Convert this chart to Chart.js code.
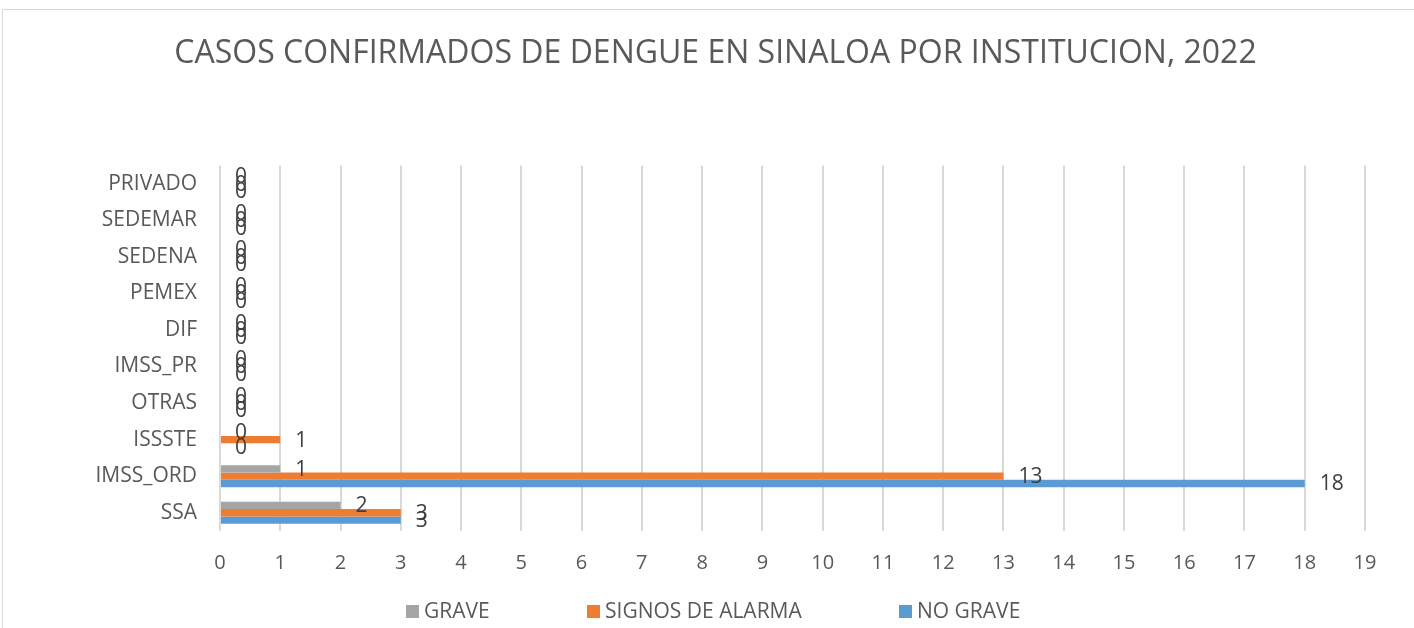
<!DOCTYPE html>
<html>
<head>
<meta charset="utf-8">
<script src="https://cdn.jsdelivr.net/npm/chart.js@4/dist/chart.umd.min.js"></script>
<style>
  html, body { margin: 0; padding: 0; background: #fff; }
  #wrap { position: relative; width: 1414px; height: 628px; overflow: hidden; }
  #frame { position: absolute; left: 2px; top: 9px; width: 1440px; height: 660px; border: 1px solid #d9d9d9; }
  canvas { position: absolute; left: 0; top: 0; }
</style>
</head>
<body>
<div id="wrap">
  <div id="frame"></div>
  <canvas id="chart" width="1414" height="628"></canvas>
</div>
<script>
// categories listed top to bottom as they appear in the chart
const institutions = ["PRIVADO", "SEDEMAR", "SEDENA", "PEMEX", "DIF", "IMSS_PR", "OTRAS", "ISSSTE", "IMSS_ORD", "SSA"];
const grave = [0, 0, 0, 0, 0, 0, 0, 0, 1, 2];
const signosDeAlarma = [0, 0, 0, 0, 0, 0, 0, 1, 13, 3];
const noGrave = [0, 0, 0, 0, 0, 0, 0, 0, 18, 3];
const xTicks = [0, 1, 2, 3, 4, 5, 6, 7, 8, 9, 10, 11, 12, 13, 14, 15, 16, 17, 18, 19];

const FONT = "'Open Sans', 'Noto Sans', sans-serif";
const TEXT = "#595959";

// value labels right of each bar end
const barLabels = {
    id: "barLabels",
    afterDatasetsDraw(chart) {
        const ctx = chart.ctx;
        ctx.save();
        ctx.font = "21px " + FONT;
        ctx.fillStyle = "#404040";
        ctx.textAlign = "left";
        ctx.textBaseline = "middle";
        chart.data.datasets.forEach((ds, i) => {
            const meta = chart.getDatasetMeta(i);
            meta.data.forEach((bar, j) => {
                ctx.fillText(String(ds.data[j]), bar.x + 15, bar.y + 1);
            });
        });
        ctx.restore();
    }
};

// legend drawn under the axis, squares with wide gaps
const bottomLegend = {
    id: "bottomLegend",
    afterDraw(chart) {
        const ctx = chart.ctx;
        const y = 611;
        const starts = [406, 587, 899];
        ctx.save();
        ctx.font = "21px " + FONT;
        ctx.textAlign = "left";
        ctx.textBaseline = "middle";
        chart.data.datasets.forEach((ds, i) => {
            ctx.fillStyle = ds.backgroundColor;
            ctx.fillRect(starts[i], y - 6, 13, 13);
            ctx.fillStyle = TEXT;
            ctx.fillText(ds.label, starts[i] + 18, y + 1);
        });
        ctx.restore();
    }
};

new Chart(document.getElementById("chart"), {
    type: "bar",
    data: {
        labels: institutions,
        datasets: [
            { label: "GRAVE", data: grave, backgroundColor: "#a5a5a5" },
            { label: "SIGNOS DE ALARMA", data: signosDeAlarma, backgroundColor: "#ed7d31" },
            { label: "NO GRAVE", data: noGrave, backgroundColor: "#5b9bd5" }
        ]
    },
    options: {
        indexAxis: "y",
        responsive: false,
        animation: false,
        categoryPercentage: 0.6,
        barPercentage: 1.0,
        layout: { padding: { left: 66, right: 49, top: 0, bottom: 33 } },
        plugins: {
            legend: { display: false },
            tooltip: { enabled: false },
            title: {
                display: true,
                text: "CASOS CONFIRMADOS DE DENGUE EN SINALOA POR INSTITUCION, 2022",
                color: TEXT,
                font: { family: FONT, size: 32, weight: "normal" },
                padding: { top: 35, bottom: 92 }
            }
        },
        scales: {
            x: {
                min: 0,
                max: 19,
                afterBuildTicks(scale) {
                    scale.ticks = xTicks.map(v => ({ value: v }));
                },
                grid: { color: "#d9d9d9", lineWidth: 2, drawTicks: false },
                border: { display: false },
                ticks: { color: TEXT, font: { family: FONT, size: 20 }, padding: 20 }
            },
            y: {
                afterFit(scale) { scale.width = 154; },
                grid: { display: false, drawTicks: false },
                border: { display: false },
                ticks: { color: TEXT, font: { family: FONT, size: 21 }, padding: 23 }
            }
        }
    },
    plugins: [barLabels, bottomLegend]
});
</script>
</body>
</html>
